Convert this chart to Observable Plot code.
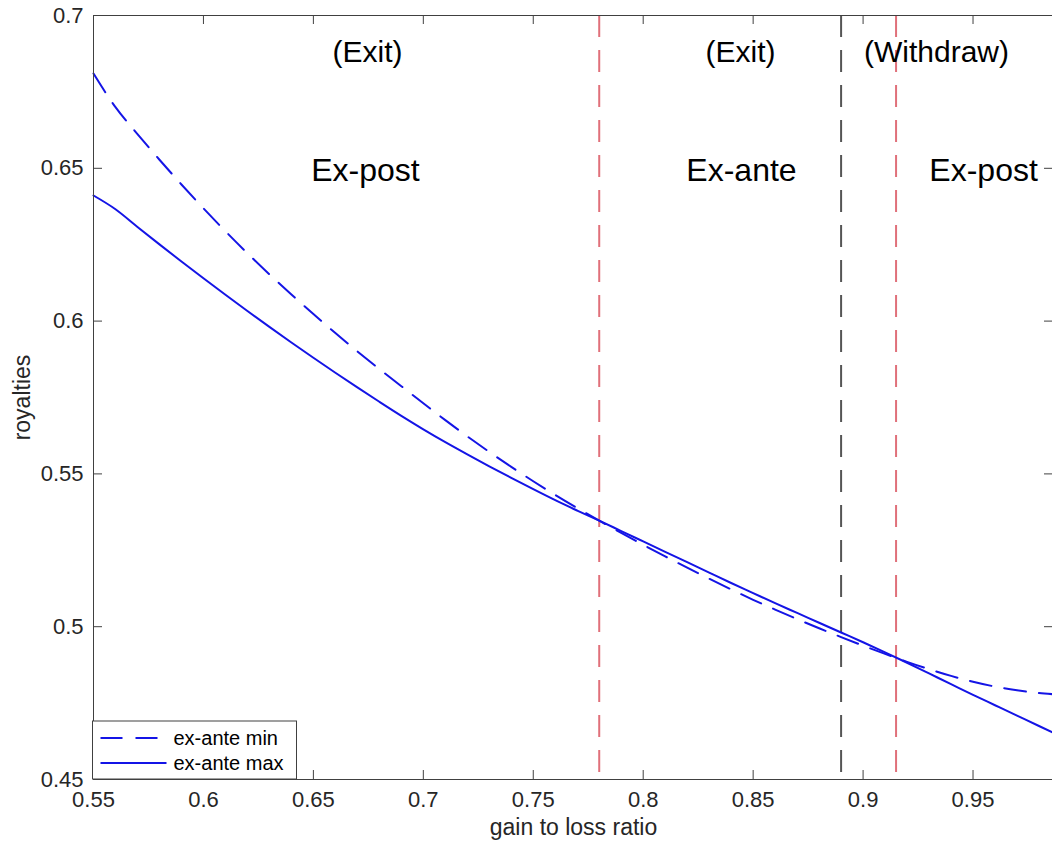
<!DOCTYPE html>
<html>
<head>
<meta charset="utf-8">
<script src="https://cdn.jsdelivr.net/npm/d3@7"></script>
<script src="https://cdn.jsdelivr.net/npm/@observablehq/plot@0.6"></script>
<style>
  html, body { margin: 0; padding: 0; background: #fff; overflow: hidden; }
  #chart svg { max-width: none !important; display: block; }
</style>
</head>
<body>
<div id="chart"></div>
<script>
// Gain-to-loss ratio grid and the two royalty bounds
const gainRatio = [0.55, 0.56, 0.57, 0.58, 0.59, 0.60, 0.61, 0.62, 0.63, 0.64, 0.65, 0.66, 0.67, 0.68, 0.69,
  0.70, 0.71, 0.72, 0.73, 0.74, 0.75, 0.76, 0.77, 0.78, 0.79, 0.80, 0.81, 0.82, 0.83, 0.84, 0.85,
  0.86, 0.87, 0.88, 0.89, 0.90, 0.91, 0.92, 0.93, 0.94, 0.95, 0.96, 0.97, 0.98, 0.9866];
const exAnteMin = [0.6810, 0.6700, 0.6612, 0.6528, 0.6447, 0.6369, 0.6294, 0.6222, 0.6153, 0.6087, 0.6023,
  0.5961, 0.5901, 0.5843, 0.5787, 0.5731, 0.5676, 0.5623, 0.5572, 0.5523, 0.5476, 0.5431, 0.5388,
  0.5347, 0.5307, 0.5268, 0.5230, 0.5193, 0.5157, 0.5122, 0.5088, 0.5056, 0.5025, 0.4995, 0.4966,
  0.4938, 0.4911, 0.4885, 0.4861, 0.4839, 0.4820, 0.4804, 0.4792, 0.4783, 0.4779];
const exAnteMax = [0.6411, 0.6366, 0.6308, 0.6251, 0.6195, 0.6140, 0.6086, 0.6033, 0.5981, 0.5930, 0.5880,
  0.5831, 0.5783, 0.5736, 0.5690, 0.5646, 0.5604, 0.5564, 0.5525, 0.5487, 0.5450, 0.5414, 0.5380,
  0.5347, 0.5313, 0.5279, 0.5245, 0.5211, 0.5177, 0.5143, 0.5110, 0.5077, 0.5045, 0.5013, 0.4981,
  0.4949, 0.4916, 0.4882, 0.4847, 0.4812, 0.4777, 0.4743, 0.4709, 0.4675, 0.4653];

// Regime thresholds
const exitThresholds = [0.78, 0.915];
const withdrawThreshold = [0.89];

// Tick values
const xTicks = [0.55, 0.6, 0.65, 0.7, 0.75, 0.8, 0.85, 0.9, 0.95];
const yTicks = [0.45, 0.5, 0.55, 0.6, 0.65, 0.7];

// Regime labels: the decision on the upper line, the contract type below it
const actionText = ["(Exit)", "(Exit)", "(Withdraw)"];
const actionX = [0.6746, 0.8443, 0.9334];
const actionY = [0.6880, 0.6880, 0.6880];
const contractText = ["Ex-post", "Ex-ante", "Ex-post"];
const contractX = [0.6737, 0.8447, 0.9548];
const contractY = [0.6493, 0.6493, 0.6493];

const seriesNames = ["ex-ante min", "ex-ante max"];

const rows = gainRatio.map((g, i) => ({g, min: exAnteMin[i], max: exAnteMax[i]}));
const actions = actionText.map((t, i) => ({t, x: actionX[i], y: actionY[i]}));
const contracts = contractText.map((t, i) => ({t, x: contractX[i], y: contractY[i]}));

const W = 1060, H = 851;
const mTop = 15, mBottom = 72, mLeft = 93, mRight = 7;
const plotH = H - mTop - mBottom;
const plotW = W - mLeft - mRight;
const font = "Helvetica, 'Liberation Sans', Arial, sans-serif";
const blue = "#1414e6";
const red = "#e0707a";
const dash = "22,13";
const axisColor = "#404040";
const tickLen = 9;

const chart = Plot.plot({
  width: W,
  height: H,
  marginTop: mTop,
  marginBottom: mBottom,
  marginLeft: mLeft,
  marginRight: mRight,
  style: {fontFamily: font, background: "#fff", color: "#262626"},
  x: {domain: [0.55, 0.9866]},
  y: {domain: [0.45, 0.7]},
  marks: [
    // regime boundaries
    Plot.ruleX(exitThresholds, {stroke: red, strokeWidth: 2, strokeDasharray: dash}),
    Plot.ruleX(withdrawThreshold, {stroke: "#555555", strokeWidth: 2, strokeDasharray: dash}),
    // royalty curves
    Plot.line(rows, {x: "g", y: "min", curve: "monotone-x", stroke: blue, strokeWidth: 2, strokeDasharray: dash}),
    Plot.line(rows, {x: "g", y: "max", curve: "monotone-x", stroke: blue, strokeWidth: 2}),
    // regime labels
    Plot.text(actions, {x: "x", y: "y", text: "t", fontSize: 30, fill: "#000", lineAnchor: "middle"}),
    Plot.text(contracts, {x: "x", y: "y", text: "t", fontSize: 32, fill: "#000", lineAnchor: "middle"}),
    // boxed axes with inward ticks on all four sides
    Plot.frame({stroke: axisColor, strokeWidth: 1}),
    Plot.tickX(xTicks, {x: d => d, stroke: axisColor, insetTop: plotH - tickLen}),
    Plot.tickX(xTicks, {x: d => d, stroke: axisColor, insetBottom: plotH - tickLen}),
    Plot.tickY(yTicks, {y: d => d, stroke: axisColor, insetRight: plotW - tickLen}),
    Plot.tickY(yTicks, {y: d => d, stroke: axisColor, insetLeft: plotW - tickLen}),
    Plot.axisX({ticks: xTicks, tickSize: 0, tickPadding: 12, tickFormat: d => String(d), fontSize: 22, label: null}),
    Plot.axisY({ticks: yTicks, tickSize: 0, tickPadding: 10, tickFormat: d => String(d), fontSize: 22, label: null}),
    // axis titles
    Plot.text(["gain to loss ratio"], {frameAnchor: "bottom", textAnchor: "middle", lineAnchor: "middle", dy: 48, fontSize: 23, fill: "#262626"}),
    Plot.text(["royalties"], {frameAnchor: "left", textAnchor: "middle", lineAnchor: "middle", dx: -71, rotate: -90, fontSize: 23, fill: "#262626"})
  ]
});

document.getElementById("chart").appendChild(chart);

// Legend box in the lower-left corner of the axes
const svg = d3.select(chart);
const lg = svg.append("g")
  .attr("font-family", font).attr("font-size", 20).attr("fill", "#000").attr("text-anchor", "start");
const lx = mLeft - 0.5, ly = H - mBottom - 58, lw = 204, lh = 58;
lg.append("rect").attr("x", lx).attr("y", ly).attr("width", lw).attr("height", lh)
  .attr("fill", "#fff").attr("stroke", axisColor).attr("stroke-width", 1);
seriesNames.forEach((name, i) => {
  const cy = ly + 17 + i * 25;
  const line = lg.append("line").attr("x1", lx + 8).attr("x2", lx + 74).attr("y1", cy).attr("y2", cy)
    .attr("stroke", blue).attr("stroke-width", 2);
  if (i === 0) line.attr("stroke-dasharray", dash);
  lg.append("text").attr("x", lx + 81).attr("y", cy).attr("dy", "0.35em").text(name);
});
</script>
</body>
</html>
